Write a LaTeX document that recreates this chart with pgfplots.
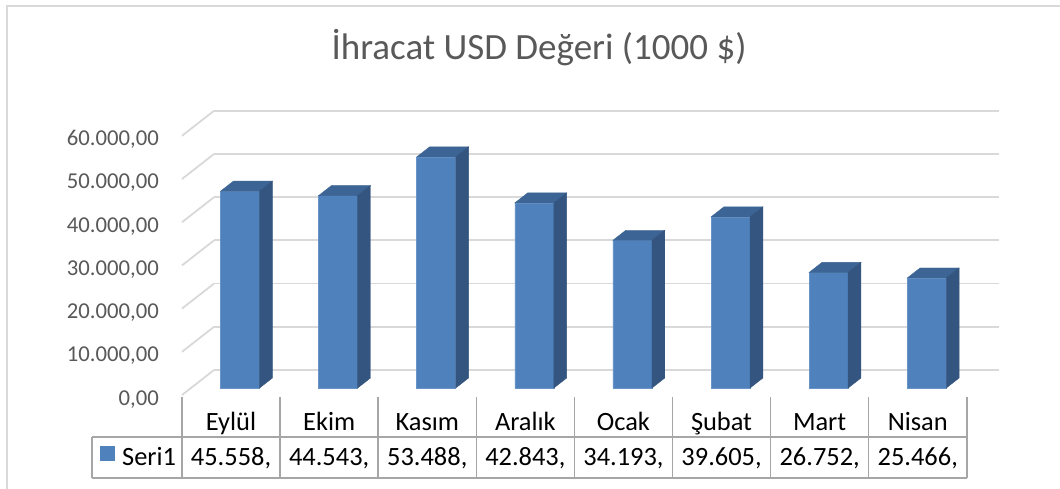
\documentclass[border=0pt]{standalone}
\usepackage{fontspec}
\setmainfont{Carlito}
\usepackage{pgfplots}
\usepackage{pgfplotstable}
\pgfplotsset{compat=1.18}
\definecolor{barfront}{HTML}{4F81BD}
\definecolor{barside}{HTML}{34557F}
\definecolor{bartop}{HTML}{3C6494}
\definecolor{gridc}{HTML}{D9D9D9}
\definecolor{txtgray}{HTML}{595959}
\definecolor{tblline}{HTML}{A6A6A6}
\pgfdeclareplotmark{empty}{}

\pgfplotstableread{
x v
0 45.558
1 44.543
2 53.488
3 42.843
4 34.193
5 39.605
6 26.752
7 25.466
}\datatable

\begin{document}
\begin{tikzpicture}
\path[use as bounding box] (0,0) rectangle (1060pt,488pt);
\fill[white] (0,0) rectangle (1060pt,488pt);
\draw[gridc, line width=2pt] (7pt,-2pt) -- (7pt,482pt) -- (1062pt,482pt);
\node[txtgray, anchor=base, inner sep=0pt, font=\fontsize{37}{44}\selectfont] at (539pt,428.5pt) {İhracat USD Değeri (1000 \$)};

\begin{axis}[
  at={(191pt,100pt)}, anchor=south west,
  x=98.1pt, y=4.32pt,
  xmin=-0.5, xmax=7.5, ymin=0, ymax=60,
  clip=false,
  axis line style={draw=none},
  major tick length=0pt,
  /pgf/number format/assume math mode=true,
  ytick={0,10,20,30,40,50,60},
  yticklabels={{0,00},{10.000,00},{20.000,00},{30.000,00},{40.000,00},{50.000,00},{60.000,00}},
  yticklabel style={anchor=base east, inner sep=0pt, xshift=-32pt, yshift=-17pt, text=txtgray, font=\fontsize{22.7}{27}\selectfont},
  xtick={0,...,7},
  xticklabels={{Eylül\\45.558,},{Ekim\\44.543,},{Kasım\\53.488,},{Aralık\\42.843,},{Ocak\\34.193,},{Şubat\\39.605,},{Mart\\26.752,},{Nisan\\25.466,}},
  xticklabel style={anchor=base, align=center, inner sep=0pt, xshift=-9pt, yshift=-77pt, text=black, font=\fontsize{26.4}{35}\selectfont},
]
\pgfplotsinvokeforeach{0,10,20,30,40,50,60}{
  \draw[gridc, line width=1.8pt] ([shift={(23pt,18pt)}]axis cs:-0.5,#1) -- ([shift={(23pt,18pt)}]axis cs:7.5,#1);
  \draw[gridc, line width=1.8pt] ([shift={(-9pt,-7pt)}]axis cs:-0.5,#1) -- ([shift={(23pt,18pt)}]axis cs:-0.5,#1);
}
\addplot[ybar, bar width=39pt, fill=barfront, draw=barfront!85!white, line width=0.6pt] table[x=x,y=v]{\datatable};
\addplot[scatter, only marks, mark=empty,
  visualization depends on={\thisrow{v} \as \val},
  scatter/@pre marker code/.code={%
    \pgfmathsetmacro\h{\val*4.32}%
    \fill[bartop] (-19.5pt,0pt) -- (19.5pt,0pt) -- (32.3pt,10pt) -- (-6.7pt,10pt) -- cycle;
    \fill[barside] (19.5pt,0pt) -- (19.5pt,{-\h pt}) -- (32.3pt,{10pt-\h pt}) -- (32.3pt,10pt) -- cycle;
  },
  scatter/@post marker code/.code={}] table[x=x,y=v]{\datatable};
\end{axis}

\begin{scope}[tblline, line width=1.5pt]
  \foreach \k in {0,...,8} \draw ({182pt+98.1pt*\k},91pt) -- ({182pt+98.1pt*\k},10pt);
  \draw (92pt,51pt) -- (967pt,51pt);
  \draw (92pt,10pt) -- (967pt,10pt);
  \draw (92pt,51pt) -- (92pt,10pt);
\end{scope}
\fill[barfront] (100pt,27pt) rectangle (115pt,42pt);
\node[anchor=base west, inner sep=0pt, font=\fontsize{26.4}{32}\selectfont] at (122pt,23pt) {Seri1};
\end{tikzpicture}
\end{document}
